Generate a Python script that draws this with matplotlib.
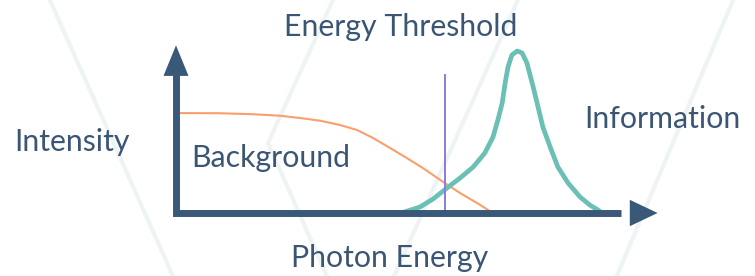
import matplotlib.pyplot as plt
from matplotlib.lines import Line2D

# data (arbitrary units: energy 0-100, intensity 0-100)
bg_energy = [0, 9.1, 15.9, 21.5, 26.2, 29.8, 33.9, 37.4, 40.7, 44.2, 47.7,
             51.0, 55.2, 58.7, 62.2, 64.5, 65.1]
bg_intensity = [60.2, 60.1, 59.5, 58.6, 57.0, 55.6, 53.0, 50.0, 45.2, 39.2,
                33.1, 27.1, 18.7, 12.0, 6.0, 1.8, 0]

sig_energy = [46.5, 50.4, 53.1, 56.0, 58.7, 61.4, 63.8, 65.5, 66.5, 67.4, 68.0,
              68.6, 69.4, 70.5, 71.5, 72.5, 73.8, 74.8, 75.8, 77.3, 78.9, 81.0,
              83.5, 85.5, 87.2, 88.0]
sig_intensity = [0, 3.6, 8.4, 15.1, 21.1, 27.7, 36.1, 45.8, 56.0, 66.3, 78.3,
                 88.0, 95.2, 97.6, 96.4, 90.4, 75.9, 63.9, 51.8, 39.8, 27.7, 18.1,
                 9.6, 4.8, 1.8, 0]

threshold = 55.6
threshold_top = 83.1

# faint background pattern (figure fractions)
watermark = [
    [(0.066, 1.0), (0.229, 0.0)],
    [(0.441, 1.0), (0.355, 0.482), (0.433, 0.0)],
    [(0.686, 1.0), (0.522, 0.0)],
    [(0.971, 1.0), (0.817, 0.0)],
]

navy = '#3a5877'
text_col = '#3b5574'
teal = '#6bc0b6'
orange = '#fa9f6c'
purple = '#8b7bdc'

plt.rcParams['font.family'] = ['Lato', 'DejaVu Sans']

fig = plt.figure(figsize=(7.55, 2.76), dpi=100)
for pts in watermark:
    xs, ys = zip(*pts)
    fig.add_artist(Line2D(xs, ys, transform=fig.transFigure, color='#eef4f3', lw=3, zorder=0))

ax = fig.add_axes([176 / 755, 63 / 276, 484 / 755, 166 / 276])
ax.set_xlim(0, 100)
ax.set_ylim(0, 100)
ax.axis('off')
ax.patch.set_alpha(0)

# curves
ax.plot(bg_energy, bg_intensity, color=orange, lw=1.5, clip_on=False)
ax.plot(sig_energy, sig_intensity, color=teal, lw=3.4, clip_on=False,
        solid_capstyle='round', solid_joinstyle='round')
ax.plot([threshold, threshold], [0, threshold_top], color=purple, lw=1.4)

# axes with arrows
ax.plot([0, 0, 92], [94, 0, 0], color=navy, lw=5, solid_joinstyle='miter',
        solid_capstyle='butt', clip_on=False, zorder=5)
ax.annotate('', xy=(0, 101), xytext=(0, 70),
            arrowprops=dict(arrowstyle='-|>,head_length=2.2,head_width=0.9',
                            mutation_scale=10, lw=0, color=navy,
                            shrinkA=0, shrinkB=0), annotation_clip=False, zorder=6)
ax.annotate('', xy=(99.5, 0), xytext=(80, 0),
            arrowprops=dict(arrowstyle='-|>,head_length=2.0,head_width=0.95',
                            mutation_scale=10, lw=0, color=navy,
                            shrinkA=0, shrinkB=0), annotation_clip=False, zorder=6)

# labels
fs = 21.8
fig.text(401 / 755, 1 - 27 / 276, 'Energy Threshold', ha='center', va='center', fontsize=fs, color=text_col)
fig.text(72 / 755, 1 - 142 / 276, 'Intensity', ha='center', va='center', fontsize=fs, color=text_col)
fig.text(271 / 755, 1 - 158 / 276, 'Background', ha='center', va='center', fontsize=fs, color=text_col)
fig.text(662 / 755, 1 - 119 / 276, 'Information', ha='center', va='center', fontsize=fs, color=text_col)
fig.text(390 / 755, 1 - 258 / 276, 'Photon Energy', ha='center', va='center', fontsize=fs, color=text_col)

fig.savefig('out.png', dpi=100)
